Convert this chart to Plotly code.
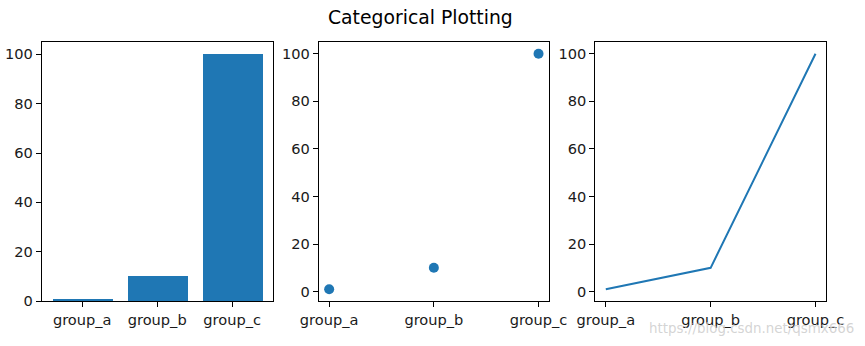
import plotly.graph_objects as go

categories = ["group_a", "group_b", "group_c"]
values = [1, 10, 100]
y_ticks = [0, 20, 40, 60, 80, 100]
title = "Categorical Plotting"
watermark = "https://blog.csdn.net/qsmx666"

W, H = 865, 346
BLUE = "#1f77b4"
FONT = "DejaVu Sans"

def fx(px):
    return px / W

def fy(py):
    return 1 - py / H

fig = go.Figure()
fig.add_trace(go.Bar(x=categories, y=values, marker=dict(color=BLUE, line=dict(width=0)),
                     width=0.8, xaxis="x", yaxis="y", showlegend=False))
fig.add_trace(go.Scatter(x=categories, y=values, mode="markers",
                         marker=dict(color=BLUE, size=10, line=dict(width=0)),
                         xaxis="x2", yaxis="y2", showlegend=False, cliponaxis=False))
fig.add_trace(go.Scatter(x=categories, y=values, mode="lines",
                         line=dict(color=BLUE, width=2),
                         xaxis="x3", yaxis="y3", showlegend=False, cliponaxis=False))

ydom = [fy(301), fy(42)]
xdoms = [[fx(41.7), fx(272.7)], [fx(318.7), fx(549)], [fx(595.3), fx(826)]]
xranges = [[-0.54, 2.54], [-0.1, 2.1], [-0.1, 2.1]]
yranges = [[0, 105], [-3.95, 104.95], [-3.95, 104.95]]

common = dict(showline=True, linecolor="black", linewidth=1, mirror=True,
              ticks="outside", ticklen=5, tickwidth=1, tickcolor="black",
              showgrid=False, zeroline=False, automargin=False,
              tickfont=dict(family=FONT, size=14.6, color="#1a1a1a"))

layout = dict(width=W, height=H, margin=dict(l=0, r=0, t=0, b=0),
              plot_bgcolor="white", paper_bgcolor="white", bargap=0)
for i in range(3):
    sx = "" if i == 0 else str(i + 1)
    layout["xaxis" + sx] = dict(common, domain=xdoms[i], type="category",
                                categoryorder="array", categoryarray=categories,
                                range=xranges[i], anchor="y" + sx)
    layout["yaxis" + sx] = dict(common, domain=ydom, range=yranges[i],
                                tickvals=y_ticks, anchor="x" + sx)

fig.update_layout(**layout)
fig.add_annotation(text=title, x=fx(420), y=fy(17), xref="paper", yref="paper",
                   showarrow=False, font=dict(family=FONT, size=18.8, color="black"),
                   xanchor="center", yanchor="middle")
fig.add_annotation(text=watermark, x=fx(856), y=fy(328), xref="paper", yref="paper",
                   showarrow=False, font=dict(family=FONT, size=13.4, color="rgba(205,205,205,0.85)"),
                   xanchor="right", yanchor="middle")

fig.write_html("out.html")
